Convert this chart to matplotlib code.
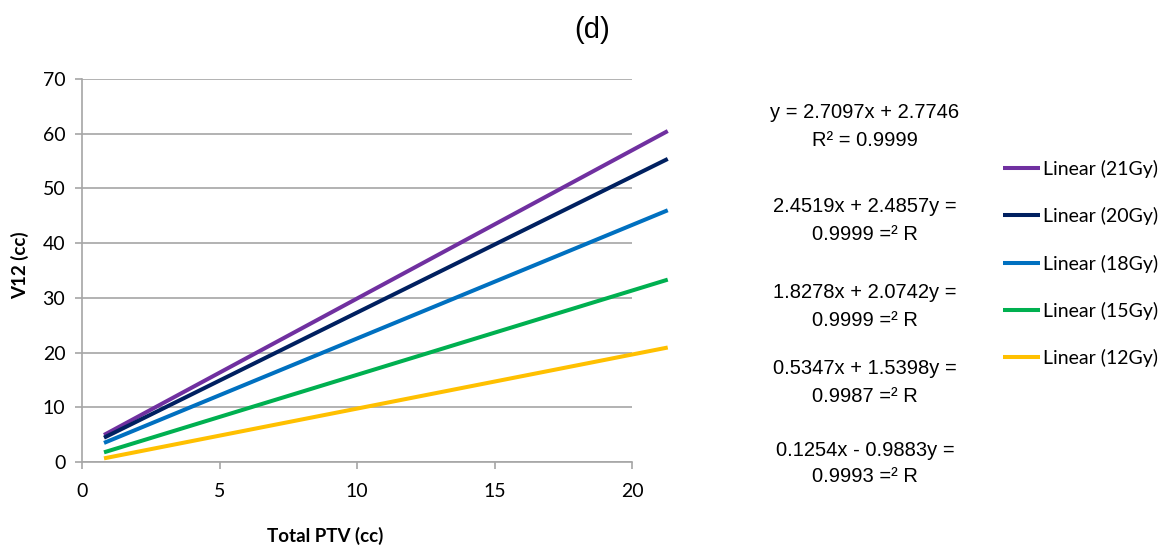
import matplotlib
matplotlib.use("Agg")
import matplotlib.pyplot as plt
import numpy as np

# trend lines (y = slope * x + intercept)
doses = ["21Gy", "20Gy", "18Gy", "15Gy", "12Gy"]
slopes = [2.7097, 2.4857, 2.0742, 1.5398, 0.9883]
intercepts = [2.7746, 2.4519, 1.8278, 0.5347, -0.1254]
colors = ["#7030A0", "#002060", "#0070C0", "#00B050", "#FFC000"]
x_span = [0.8, 21.3]

# equation labels as printed on the chart
eq_lines = [
    ("y = 2.7097x + 2.7746", "R\u00b2 = 0.9999"),
    ("2.4519x + 2.4857y =", "0.9999 =\u00b2 R"),
    ("1.8278x + 2.0742y =", "0.9999 =\u00b2 R"),
    ("0.5347x + 1.5398y =", "0.9987 =\u00b2 R"),
    ("0.1254x - 0.9883y =", "0.9993 =\u00b2 R"),
]
eq_y = [113, 207, 293, 369, 450]  # pixel rows of first line of each block

W, H = 1163, 549
fig = plt.figure(figsize=(W / 100, H / 100), dpi=100)
ax = fig.add_axes([82 / W, 1 - 462 / H, (632 - 82) / W, (462 - 79) / H])

xs = np.array(x_span)
handles = []
for dose, m, b, c in zip(doses, slopes, intercepts, colors):
    ln, = ax.plot(xs, m * xs + b, color=c, lw=2.9, clip_on=False,
                  solid_capstyle="butt", label="Linear (%s)" % dose)
    handles.append(ln)

ax.set_xlim(0, 20)
ax.set_ylim(0, 70)
ax.set_xticks(range(0, 21, 5))
ax.set_yticks(range(0, 71, 10))
ax.yaxis.grid(True, color="#A6A6A6", lw=1.2)
ax.set_axisbelow(True)
for s in ["top", "right"]:
    ax.spines[s].set_visible(False)
for s in ["left", "bottom"]:
    ax.spines[s].set_color("#A6A6A6")
    ax.spines[s].set_linewidth(1.2)
ax.tick_params(axis="both", colors="#A6A6A6", labelcolor="black",
               labelsize=14, length=5, width=1.2, direction="out")
ax.tick_params(axis="x", pad=10)
ax.tick_params(axis="y", pad=7)
for lab in ax.get_xticklabels() + ax.get_yticklabels():
    lab.set_family("Lato")

ax.set_xlabel("Total PTV (cc)", fontsize=13.5, fontweight="bold", family="Lato")
ax.set_ylabel("V12 (cc)", fontsize=13.5, fontweight="bold", family="Lato")
ax.xaxis.set_label_coords((325 - 82) / 550, (462 - 527) / 383)
ax.yaxis.set_label_coords((29 - 82) / 550, (462 - 265) / 383)

fig.text(592 / W, 1 - 30 / H, "(d)", fontsize=21, family="Liberation Sans",
         ha="center", va="center")

for (l1, l2), py in zip(eq_lines, eq_y):
    fig.text(865 / W, 1 - py / H, l1, fontsize=14.5, family="Liberation Sans",
             ha="center", va="center")
    fig.text(865 / W, 1 - (py + 27) / H, l2, fontsize=14.5,
             family="Liberation Sans", ha="center", va="center")

fig.legend(handles=handles, loc="upper left",
           bbox_to_anchor=(1003 / W, 1 - 160 / H), frameon=False,
           prop={"family": "Lato", "size": 14}, handlelength=1.9,
           handletextpad=0.15, labelspacing=1.5, borderaxespad=0,
           borderpad=0)

fig.savefig("out.png", dpi=100)
